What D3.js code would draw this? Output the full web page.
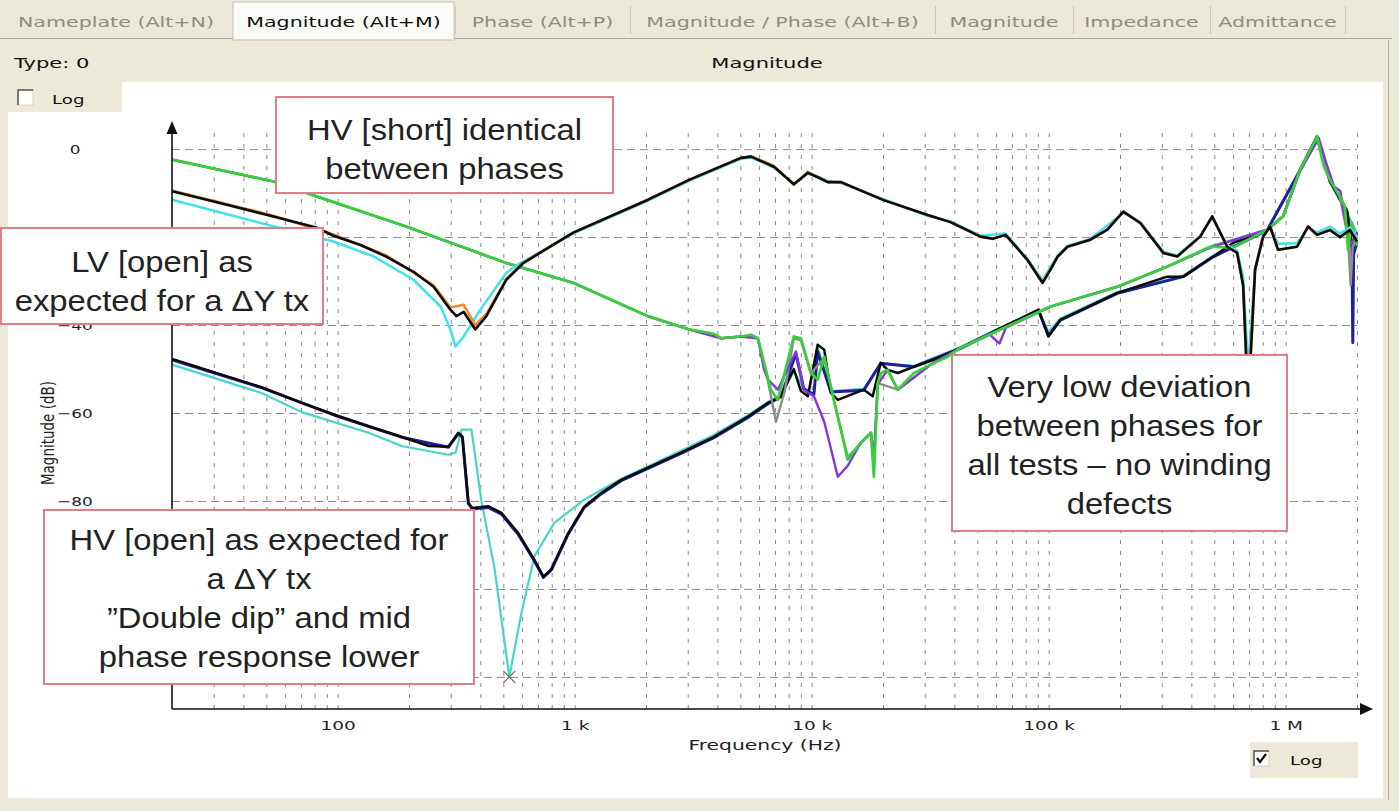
<!DOCTYPE html>
<html>
<head>
<meta charset="utf-8">
<style>
body { margin: 0; background: #ece9d8; }
svg { display: block; }
.ui { font-family: "DejaVu Sans", Verdana, sans-serif; }
.note { font-family: "Liberation Sans", Arial, sans-serif; }
</style>
</head>
<body>
<svg id="chart" width="1399" height="811"></svg>
<script src="https://cdnjs.cloudflare.com/ajax/libs/d3/7.8.5/d3.min.js"></script>
<script>
// tabs of the analyser window
const tabLabels = ["Nameplate (Alt+N)", "Magnitude (Alt+M)", "Phase (Alt+P)", "Magnitude / Phase (Alt+B)", "Magnitude", "Impedance", "Admittance"];
const activeTab = 1;

// axis ticks
const xTicks = [100, 1e3, 1e4, 1e5, 1e6];
const xTickLabels = ["100", "1 k", "10 k", "100 k", "1 M"];
const yTicks = [0, -20, -40, -60, -80, -100, -120];

// traces: [frequency Hz, magnitude dB]
const lvOpenCyan = [[20,-11.5],[54,-17.6],[96,-21],[142,-24.4],[209,-29.7],[272,-35.8],[299,-41],[314,-44.9],[340,-42.6],[400,-36.5],[515,-28.1],[590,-25.9],[986,-19.2],[2040,-11.7],[3040,-7.2],[5030,-2.2],[5550,-1.9],[6930,-4.2],[8410,-7.8],[9640,-5.6],[10600,-6.2],[11700,-7.3],[13300,-7.7],[20100,-11.4],[30900,-15.2],[38500,-16.4],[51600,-19.7],[65800,-19.2],[81400,-25],[94200,-29.8],[108900,-24.3],[120000,-22],[150000,-20.4],[206600,-14.5],[243600,-16.6],[304500,-23.3],[348800,-24.2],[436000,-19.7],[489800,-15.6],[566500,-21.8],[624300,-23.2],[661600,-29],[694600,-50],[743200,-27],[803300,-19.5],[859900,-17.9],[929000,-21.5],[1117000,-21.4],[1243000,-17.8],[1356000,-19],[1539000,-17.6],[1695000,-19.2],[1867000,-17.8],[2000000,-20]];
const lvOpenOrange = [[20,-9.4],[54,-15.2],[96,-19.4],[161,-24.2],[254,-31],[299,-36],[340,-35.4],[381,-40],[424,-37.5],[515,-29.5],[607,-25.8],[986,-19],[2040,-11.5],[3040,-7],[5030,-2],[5550,-1.6],[6930,-3.8],[8410,-8.1],[9640,-5.2],[10600,-6.3],[11700,-7.5],[13300,-7.5],[20100,-11.6],[30900,-15],[38500,-16.6],[51600,-19.9],[58000,-20.4],[65800,-19.5],[81400,-25.2],[94200,-30.4],[101800,-27.4],[108900,-24.5],[120000,-22.2],[150000,-20.6],[176900,-18.3],[206600,-14.2],[243600,-16.8],[304500,-23.6],[348800,-24.4],[436000,-19.9],[489800,-15.3],[566500,-22.2],[624300,-23.6],[661600,-31],[694600,-58],[743200,-27.4],[803300,-19.9],[859900,-17.6],[929000,-22.9],[1117000,-22.2],[1243000,-17.6],[1356000,-19.5],[1539000,-18.4],[1695000,-20],[1867000,-18.4],[2000000,-21]];
const lvOpenBlack = [[20,-9.6],[30,-11.9],[54,-15.4],[82,-17.9],[96,-19.7],[125,-21.8],[161,-24.5],[209,-27.9],[254,-31.3],[299,-36.5],[317,-38],[340,-37],[381,-41],[424,-38],[515,-29.7],[607,-25.9],[986,-19],[2040,-11.5],[3040,-7],[5030,-2],[5550,-1.7],[6930,-4],[8410,-8],[9640,-5.4],[10600,-6.4],[11700,-7.5],[13300,-7.5],[20100,-11.6],[30900,-15],[38500,-16.6],[51600,-19.9],[58000,-20.4],[65800,-19.5],[81400,-25.2],[94200,-30.4],[101800,-27.4],[108900,-24.5],[120000,-22.2],[150000,-20.6],[176900,-18.3],[206600,-14.2],[243600,-16.8],[304500,-23.6],[348800,-24.4],[436000,-19.9],[489800,-15.3],[566500,-22.2],[624300,-23.6],[661600,-31],[694600,-58],[743200,-27.4],[803300,-19.9],[859900,-17.6],[929000,-22.9],[1117000,-22.2],[1243000,-17.6],[1356000,-19.5],[1539000,-18.4],[1695000,-20],[1867000,-18.4],[2000000,-21]];

const hvShortGray = [[20,-2.4],[54,-7.4],[82,-10.8],[195,-17.6],[515,-25.9],[986,-30.4],[2040,-38],[3040,-41],[4150,-43],[5030,-42.6],[5930,-43],[6500,-52],[7070,-62],[7700,-55],[8410,-43],[9010,-43.5],[9920,-51],[11300,-47.5],[12400,-57],[14200,-70],[17800,-64.5],[18300,-73],[19000,-53.2],[23100,-54.7],[31800,-49],[42500,-45.2],[62700,-41],[101800,-35.8],[194900,-31.3],[316600,-26.7],[480400,-22.2],[835100,-18.3],[975000,-15.3],[1150000,-4.7],[1356000,2.6],[1539000,-7],[1695000,-11],[1832000,-20],[1880000,-31],[1920000,-22],[2000000,-20]];
const hvShortPurple = [[20,-2.4],[54,-7.4],[82,-10.8],[195,-17.6],[515,-25.9],[986,-30.4],[2040,-38],[3040,-41],[4150,-43],[5030,-42.6],[5930,-43],[6290,-50],[6540,-52.4],[7200,-54.7],[8580,-46],[9270,-54.7],[10220,-56.2],[11300,-62],[12900,-74.5],[14200,-72],[16100,-66.8],[17800,-64.5],[18300,-70],[19000,-53.5],[20900,-50.2],[23100,-54.7],[31800,-49],[42500,-45.2],[56000,-42],[62000,-44.2],[66000,-40.6],[101800,-35.8],[194900,-31.3],[316600,-26.7],[480400,-22.4],[835100,-18.3],[975000,-15.3],[1150000,-5],[1380000,2.5],[1480000,-3],[1600000,-8.5],[1700000,-9.5],[1780000,-16],[1867000,-22],[2000000,-19]];
const hvShortGreen = [[20,-2.4],[54,-7.4],[82,-10.8],[195,-17.6],[515,-25.9],[986,-30.4],[2040,-38],[3040,-41],[3870,-42],[4150,-43],[5030,-42.6],[5550,-42.2],[5930,-43],[6730,-54.7],[7200,-57],[8410,-42.6],[9010,-43],[9920,-50.9],[10600,-52.4],[11300,-47.2],[12400,-57],[14200,-70.6],[16100,-66.8],[17800,-64.5],[18300,-74.5],[19000,-53.2],[19600,-50.9],[20900,-50.2],[23100,-54.7],[27000,-50.9],[31800,-49],[37500,-47.2],[42500,-45.2],[62700,-41],[101800,-35.8],[194900,-31.3],[316600,-26.7],[480400,-22.2],[600500,-22.4],[835100,-18.3],[975000,-15.3],[1150000,-4.7],[1356000,2.9],[1450000,-4],[1539000,-7],[1695000,-10.8],[1778000,-13],[1832000,-22.9],[1904000,-16.7],[2000000,-22]];

const hvOpenCyan = [[20,-49],[48,-55.5],[70.5,-59.8],[135,-64.5],[186,-67.5],[293,-69.5],[315,-69],[333,-63.8],[367,-63.8],[404,-80],[458,-95],[530,-120],[596,-105.5],[676,-92.6],[820,-85],[1097,-79.7],[1294,-77.5],[1571,-75],[2810,-68.6],[3870,-65],[5390,-60.5],[6540,-57.5],[7420,-56],[8410,-50.5],[9640,-56],[10600,-45],[12050,-55],[16600,-54.5],[19560,-48.8],[26950,-49.3],[42500,-45],[62700,-40.5],[90600,-36.8],[99800,-41.5],[112100,-38.5],[194900,-32.5],[369800,-28.8],[494700,-24.2],[835100,-18.2],[1150000,-5],[1356000,2.5],[1539000,-7.5],[1814000,-14.5],[2000000,-19]];
const hvOpenNavy = [[20,-47.9],[48,-54.3],[97,-60.5],[186,-65.5],[293,-67.8],[323,-64.7],[336,-65.5],[356,-80.6],[370,-81.8],[433,-81.5],[491,-83],[578,-87.6],[676,-93.6],[738,-97.4],[797,-95.7],[940,-87.5],[1097,-81.5],[1294,-78.4],[1571,-75.4],[2810,-69.2],[3870,-65.6],[5390,-61],[6540,-57.9],[7420,-56.3],[8580,-46.5],[9270,-54.5],[10220,-55.8],[10600,-46],[12050,-55.2],[16600,-54.8],[19560,-48.7],[26950,-49.5],[42500,-45.3],[62700,-40.8],[90600,-36.7],[99800,-42.4],[112100,-38.9],[194900,-32.8],[369800,-29],[494700,-24.5],[835100,-18.5],[1150000,-4.8],[1356000,2.7],[1539000,-7.3],[1814000,-14.2],[1904000,-22],[1920000,-44],[1935000,-24],[2000000,-21]];
const hvOpenBlack = [[20,-47.7],[48,-54.2],[70.5,-57.7],[97,-60.4],[135,-63],[186,-65.4],[242,-67.5],[293,-67.7],[323,-64.5],[336,-65.4],[356,-80.4],[370,-81.6],[433,-81.2],[491,-82.7],[578,-87.3],[676,-93.4],[738,-97.2],[797,-95.5],[940,-87.3],[1097,-81.3],[1294,-78.2],[1571,-75.2],[2810,-69],[3870,-65.4],[5390,-60.8],[6540,-57.7],[7420,-56.2],[8410,-50],[9010,-55],[9640,-56.2],[10600,-44.5],[11300,-45.6],[12050,-55.4],[12900,-57],[16600,-54.7],[18100,-56.2],[19560,-48.6],[20940,-50.2],[23080,-50.9],[26950,-49.5],[32710,-47.9],[42500,-45.2],[62700,-40.7],[90600,-36.5],[99800,-42.6],[112100,-38.8],[194900,-32.7],[316600,-29],[369800,-29],[494700,-24.4],[600500,-21.3],[835100,-18.4],[975000,-15.3],[1150000,-4.7],[1356000,2.9],[1539000,-7.2],[1695000,-11],[1814000,-14],[1904000,-22],[2000000,-19]];

// cursor marker on the deepest dip
const cursorPoint = [530, -120];

const notes = [
  { lines: ["HV [short] identical", "between phases"], box: [276, 97, 337, 96], dy: 4 },
  { lines: ["LV [open] as", "expected for a \u0394Y tx"], box: [1, 228, 322, 96], dy: 5 },
  { lines: ["HV [open] as expected for", "a \u0394Y tx", "\u201dDouble dip\u201d and mid", "phase response lower"], box: [44, 510, 430, 174], dy: 1 },
  { lines: ["Very low deviation", "between phases for", "all tests \u2013 no winding", "defects"], box: [952, 355, 335, 176], dy: 2 }
];

const svg = d3.select("#chart");
const plotTop = 132, plotBottom = 709;
const x = d3.scaleLog().domain([20, 2e6]).range([172, 1357]);
const y = d3.scaleLinear().domain([-127.3, 4.8]).range([709, 128]);

// the screenshot is wider than tall: widen horizontal text the same way
function stretch(sel, k) {
  sel.each(function () {
    const w = this.getComputedTextLength();
    d3.select(this).attr("textLength", w * k).attr("lengthAdjust", "spacingAndGlyphs");
  });
}

// ---- window chrome ----
svg.append("rect").attr("width", 1399).attr("height", 811).attr("fill", "#ece9d8");
svg.append("rect").attr("x", 0).attr("y", 0).attr("width", 1399).attr("height", 38).attr("fill", "#ebe8d9");
svg.append("line").attr("x1", 0).attr("x2", 1392).attr("y1", 38.5).attr("y2", 38.5).attr("stroke", "#a9a799");

const tabEdges = [0, 232, 455, 630, 935, 1073, 1210, 1345];
const tabs = svg.append("g").attr("class", "ui");
tabLabels.forEach((t, i) => {
  const x0 = tabEdges[i], x1 = tabEdges[i + 1];
  if (i === activeTab) {
    tabs.append("rect").attr("x", x0 + 1).attr("y", 2).attr("width", x1 - x0 - 2).attr("height", 38)
      .attr("fill", "#fbfbf8").attr("stroke", "#c4c2b6");
  } else if (i > 0) {
    tabs.append("line").attr("x1", x0 + 0.5).attr("x2", x0 + 0.5).attr("y1", 6).attr("y2", 34).attr("stroke", "#c9c6b6");
  }
  tabs.append("text").attr("x", (x0 + x1) / 2).attr("y", 27).attr("text-anchor", "middle")
    .attr("font-size", 14.5).attr("fill", i === activeTab ? "#111" : "#8d8c86").text(t);
});
stretch(tabs.selectAll("text"), 1.42);
tabs.append("line").attr("x1", 1345.5).attr("x2", 1345.5).attr("y1", 6).attr("y2", 34).attr("stroke", "#c9c6b6");

const typeText = svg.append("text").attr("class", "ui").attr("x", 14).attr("y", 68).attr("font-size", 14.5).attr("fill", "#111").text("Type: 0");
const titleText = svg.append("text").attr("class", "ui").attr("x", 767).attr("y", 68).attr("font-size", 14.5).attr("text-anchor", "middle").attr("fill", "#111").text("Magnitude");
stretch(typeText, 1.45);
stretch(titleText, 1.45);

// white chart panel
svg.append("rect").attr("x", 8).attr("y", 82).attr("width", 1375).attr("height", 716).attr("fill", "#ffffff");
svg.append("line").attr("x1", 1388.5).attr("x2", 1388.5).attr("y1", 40).attr("y2", 800).attr("stroke", "#b4b2a6");
svg.append("rect").attr("x", 8).attr("y", 82).attr("width", 114).attr("height", 30).attr("fill", "#ece9d8");

// ---- grid ----
const minorX = [];
[10, 100, 1e3, 1e4, 1e5, 1e6].forEach(d => d3.range(1, 10).forEach(m => {
  const f = m * d;
  if (f > 20 && f <= 2e6) minorX.push(f);
}));
const gridX = svg.append("g").attr("transform", `translate(0,${plotBottom})`)
  .call(d3.axisBottom(x).tickValues(minorX).tickSize(-(plotBottom - plotTop)).tickFormat(""));
gridX.select(".domain").remove();
gridX.selectAll("line").attr("stroke", "#8a8a8a").attr("stroke-dasharray", "4,7");

const gridY = svg.append("g").attr("transform", "translate(172,0)")
  .call(d3.axisLeft(y).tickValues(yTicks).tickSize(-(1357 - 172)).tickFormat(""));
gridY.select(".domain").remove();
gridY.selectAll("line").attr("stroke", "#8a8a8a").attr("stroke-dasharray", "8,5");

// ---- traces ----
const line = d3.line().x(d => x(d[0])).y(d => y(d[1]));
const traces = [
  [hvOpenCyan, "#45d6c6", 2.2],
  [hvOpenNavy, "#1f1f9e", 3],
  [hvOpenBlack, "#0b0b0b", 2.5],
  [hvShortGray, "#8c8c8c", 2.4],
  [hvShortPurple, "#8434e0", 2.4],
  [hvShortGreen, "#36d136", 2.7],
  [lvOpenCyan, "#3fe2ea", 2.5],
  [lvOpenOrange, "#f08a2c", 2.6],
  [lvOpenBlack, "#0b0b0b", 2.6]
];
const traceG = svg.append("g").attr("fill", "none").attr("stroke-linejoin", "round");
traces.forEach(([data, color, w]) => {
  traceG.append("path").datum(data).attr("d", line).attr("stroke", color).attr("stroke-width", w);
});

const cx = x(cursorPoint[0]), cy = y(cursorPoint[1]);
svg.append("path").attr("d", `M${cx - 6},${cy - 6}L${cx + 6},${cy + 6}M${cx - 6},${cy + 6}L${cx + 6},${cy - 6}`)
  .attr("stroke", "#666").attr("stroke-width", 1.2);

// ---- axes ----
svg.append("line").attr("x1", 172).attr("x2", 172).attr("y1", plotBottom).attr("y2", 130).attr("stroke", "#111").attr("stroke-width", 1.6);
svg.append("path").attr("d", "M172,121L166.5,134L177.5,134Z").attr("fill", "#111");
svg.append("line").attr("x1", 172).attr("x2", 1364).attr("y1", plotBottom).attr("y2", plotBottom).attr("stroke", "#111").attr("stroke-width", 1.6);
svg.append("path").attr("d", `M1373,${plotBottom}L1360,${plotBottom - 6}L1360,${plotBottom + 6}Z`).attr("fill", "#111");

const xAxis = svg.append("g").attr("class", "ui").attr("transform", `translate(0,${plotBottom})`)
  .call(d3.axisBottom(x).tickValues(xTicks).tickFormat((d, i) => xTickLabels[i]).tickSize(0).tickPadding(12));
xAxis.select(".domain").remove();
xAxis.selectAll("text").attr("font-size", 13).attr("fill", "#222").attr("font-family", "DejaVu Sans, sans-serif");
stretch(xAxis.selectAll("text"), 1.42);

const yAxis = svg.append("g").attr("class", "ui").attr("transform", "translate(75,0)")
  .call(d3.axisLeft(y).tickValues(yTicks).tickFormat(d3.format("d")).tickSize(0).tickPadding(0));
yAxis.select(".domain").remove();
yAxis.selectAll("text").attr("text-anchor", "middle").attr("font-size", 13).attr("fill", "#222").attr("font-family", "DejaVu Sans, sans-serif");
stretch(yAxis.selectAll("text"), 1.3);

const freqTitle = svg.append("text").attr("class", "ui").attr("x", 765).attr("y", 750).attr("text-anchor", "middle")
  .attr("font-size", 14).attr("fill", "#222").text("Frequency (Hz)");
stretch(freqTitle, 1.45);
svg.append("text").attr("class", "ui").attr("transform", "translate(54,433) scale(1.35,1) rotate(-90)").attr("text-anchor", "middle")
  .attr("font-size", 13.5).attr("fill", "#222").text("Magnitude (dB)");

// ---- check boxes ----
function checkbox(bx, by, checked) {
  svg.append("rect").attr("x", bx).attr("y", by).attr("width", 15).attr("height", 15).attr("fill", "#fff").attr("stroke", "#d0d0c8");
  svg.append("path").attr("d", `M${bx},${by + 15}V${by}H${bx + 15}`).attr("fill", "none").attr("stroke", "#555").attr("stroke-width", 1.5);
  if (checked) {
    svg.append("path").attr("d", `M${bx + 3},${by + 7}L${bx + 6},${by + 11}L${bx + 12},${by + 3}`)
      .attr("fill", "none").attr("stroke", "#111").attr("stroke-width", 2.2);
  }
}
checkbox(18, 90, false);
const logTop = svg.append("text").attr("class", "ui").attr("x", 52).attr("y", 104).attr("font-size", 13).attr("fill", "#111").text("Log");
svg.append("rect").attr("x", 1250).attr("y", 742).attr("width", 108).attr("height", 36).attr("fill", "#ece9d8");
checkbox(1254, 751, true);
const logBottom = svg.append("text").attr("class", "ui").attr("x", 1290).attr("y", 765).attr("font-size", 13).attr("fill", "#111").text("Log");
stretch(logTop, 1.4);
stretch(logBottom, 1.4);

// ---- annotations ----
notes.forEach(n => {
  const [bx, by, bw, bh] = n.box;
  const g = svg.append("g");
  g.append("rect").attr("x", bx).attr("y", by).attr("width", bw).attr("height", bh)
    .attr("fill", "#fff").attr("stroke", "#e37c86").attr("stroke-width", 2);
  const step = 39;
  const startY = by + bh / 2 - (n.lines.length - 1) * step / 2 + 10 + n.dy;
  n.lines.forEach((t, i) => {
    g.append("text").attr("class", "note").attr("x", bx + bw / 2).attr("y", startY + i * step)
      .attr("text-anchor", "middle").attr("font-size", 29).attr("fill", "#222").text(t);
  });
  stretch(g.selectAll("text"), 1.13);
});
</script>
</body>
</html>
